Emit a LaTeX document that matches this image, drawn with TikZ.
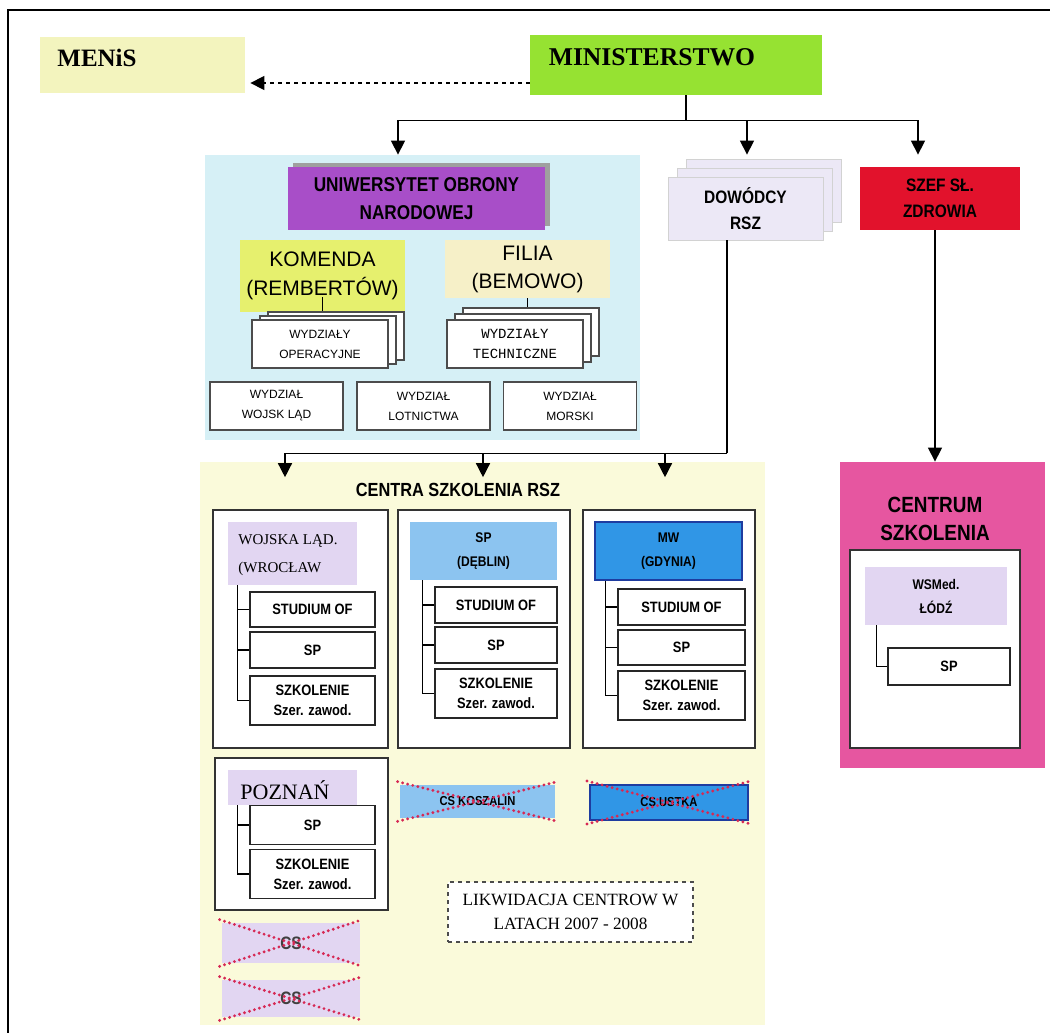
\documentclass[tikz,border=0pt]{standalone}
\usepackage{fontspec}
\setmainfont{Liberation Serif}
\setsansfont{Liberation Sans}
\setmonofont{Liberation Mono}
\newfontfamily\condsf[FakeStretch=0.86]{Liberation Sans}
\usetikzlibrary{arrows.meta,shadows}

\definecolor{uonbg}{RGB}{214,240,246}
\definecolor{centbg}{RGB}{250,250,218}
\definecolor{menisyellow}{RGB}{243,244,190}
\definecolor{mingreen}{RGB}{150,226,50}
\definecolor{uonpurple}{RGB}{168,78,200}
\definecolor{dowlav}{RGB}{236,232,246}
\definecolor{szefred}{RGB}{226,18,44}
\definecolor{komyellow}{RGB}{230,240,110}
\definecolor{filcream}{RGB}{246,240,200}
\definecolor{cspink}{RGB}{230,86,160}
\definecolor{lav}{RGB}{226,214,242}
\definecolor{splight}{RGB}{140,196,240}
\definecolor{mwblue}{RGB}{48,150,230}
\definecolor{mwdark}{RGB}{30,60,160}
\definecolor{crossred}{RGB}{214,40,84}

\begin{document}
\begin{tikzpicture}[x=0.5pt,y=-0.5pt,
  box/.style={rectangle,inner sep=1pt,align=center},
  sub/.style={box,draw=black!85,line width=0.8pt,fill=white,minimum width=62.5pt,
    font=\condsf\bfseries\fontsize{7.5}{10}\selectfont},
  col/.style={box,draw=black!80,line width=0.8pt,fill=white,minimum height=119pt},
  wyd/.style={box,draw=black!70,line width=0.6pt,fill=white,minimum width=66.5pt,minimum height=24pt,
    font=\sffamily\fontsize{6}{10}\selectfont},
  link/.style={line width=0.7pt},
  arr/.style={link,-{Triangle[width=7pt,length=7pt]}},
  cross/.style={crossred,line width=1.6pt,line cap=round,dash pattern=on 0pt off 2.6pt}]
\useasboundingbox (0,0) rectangle (1050,1033);
% frame
\draw[line width=0.8pt] (8,1033) -- (8,10) -- (1050,10);
% backgrounds
\fill[uonbg] (205,155) rectangle (640,440);
\fill[centbg] (200,462) rectangle (765,1025);

% top level
\node[box,fill=menisyellow,minimum width=102.5pt,minimum height=28pt] (menis) at (142.5,65) {};
\node[anchor=west,inner sep=0pt,font=\bfseries\fontsize{12.5}{14}\selectfont] (menistxt) at (57,58) {MENiS};
\node[box,fill=mingreen,minimum width=146pt,minimum height=30pt] (min) at (676,65) {};
\node[inner sep=0pt,font=\bfseries\fontsize{12.8}{15}\selectfont] (mintxt) at (652,57) {MINISTERSTWO};
\draw[arr,dash pattern=on 2pt off 2pt] ([yshift=-9pt]min.west) -- ([yshift=-9pt,xshift=2.5pt]menis.east);

\node[box,fill=uonpurple,minimum width=128.5pt,minimum height=31.5pt,
  general shadow={fill=gray!75,shadow xshift=2.5pt,shadow yshift=2pt},
  font=\condsf\bfseries\fontsize{10}{14}\selectfont] (uon) at (416.5,198.5) {UNIWERSYTET OBRONY\\NARODOWEJ};
\node[box,fill=dowlav,draw=gray!35,minimum width=77.5pt,minimum height=31.5pt,
  double copy shadow={shadow xshift=4.5pt,shadow yshift=4.5pt,fill=dowlav,draw=gray!35},
  font=\condsf\bfseries\fontsize{9}{13}\selectfont] (dow) at (745.5,208.5) {DOWÓDCY\\RSZ};
\node[box,fill=szefred,minimum width=80pt,minimum height=31.5pt,
  font=\condsf\bfseries\fontsize{9}{13}\selectfont] (szef) at (940,198.5) {SZEF SŁ.\\ZDROWIA};

\draw[link] ([xshift=5pt]min.south) -- ++(0,25) coordinate (hub);
\draw[arr] (hub) -| ([xshift=-9.25pt,yshift=6pt]uon.north);
\draw[arr] (hub) -| ([xshift=0.75pt,yshift=11pt]dow.north);
\draw[arr] (hub) -| ([xshift=-11pt,yshift=6pt]szef.north);

% uniwersytet
\node[box,fill=komyellow,minimum width=82.5pt,minimum height=36pt,
  font=\sffamily\fontsize{10.5}{14.5}\selectfont] (kom) at (322.5,276) {KOMENDA\\(REMBERTÓW)};
\node[box,fill=filcream,minimum width=82.5pt,minimum height=29pt,
  font=\sffamily\fontsize{10.5}{14}\selectfont] (fil) at (527.5,269) {FILIA\\(BEMOWO)};
\draw[link,shorten >=4pt] ([yshift=7.5pt]kom.south) -- (kom.south |- 0,320);
\draw[link,shorten >=6pt] (fil.south) -- (fil.south |- 0,320);
\node[wyd,minimum width=68pt,double copy shadow={shadow xshift=4pt,shadow yshift=2pt,fill=white,draw=black!70}]
  (wop) at (320,344) {WYDZIAŁY\\OPERACYJNE};
\node[wyd,minimum width=68pt,double copy shadow={shadow xshift=4pt,shadow yshift=3pt,fill=white,draw=black!70},
  font=\ttfamily\fontsize{7}{10}\selectfont] (wte) at (515,344) {WYDZIAŁY\\TECHNICZNE};
\node[wyd] (wl) at (276.5,406) {WYDZIAŁ\\WOJSK LĄD};
\node[wyd] (wlo) at (423.5,406) {WYDZIAŁ\\LOTNICTWA};
\node[wyd] (wmo) at (570,406) {WYDZIAŁ\\MORSKI};

% centra szkolenia
\node[font=\condsf\bfseries\fontsize{9.5}{12}\selectfont] (csr) at (458,490) {CENTRA SZKOLENIA RSZ};
\node[col,minimum width=87.5pt] (c1) at (300.5,629) {};
\node[col,minimum width=86pt] (c2) at (484,629) {};
\node[col,minimum width=86pt] (c3) at (669,629) {};

\draw[link] ([xshift=-9.25pt]dow.south) -- ++(0,213) coordinate (hub2);
\draw[arr] (hub2) -| ([xshift=-7.75pt,yshift=16pt]c1.north);
\draw[arr] (hub2) -| ([xshift=-0.5pt,yshift=16pt]c2.north);
\draw[arr] (hub2) -| ([xshift=-2pt,yshift=16pt]c3.north);

\node[box,fill=lav,minimum width=64.5pt,minimum height=31.5pt] (h1) at (292.5,553.5) {};
\node[anchor=north west,align=left,inner sep=0pt,font=\fontsize{7.5}{14}\selectfont] (h1txt) at (238,534) {WOJSKA LĄD.\\(WROCŁAW};
\node[box,fill=splight,minimum width=73.5pt,minimum height=29pt,
  font=\condsf\bfseries\fontsize{7}{12}\selectfont] (h2) at (483.5,551) {SP\\(DĘBLIN)};
\node[box,fill=mwblue,draw=mwdark,line width=1pt,minimum width=73.5pt,minimum height=29pt,
  font=\condsf\bfseries\fontsize{7}{12}\selectfont] (h3) at (668.5,551) {MW\\(GDYNIA)};

\node[sub,minimum height=17.5pt] (s1a) at (312.5,609.5) {STUDIUM OF};
\node[sub,minimum height=18pt] (s1b) at (312.5,650) {SP};
\node[sub,minimum height=24.5pt] (s1c) at (312.5,700.5) {SZKOLENIE\\Szer. zawod.};
\node[sub,minimum width=61pt,minimum height=18pt] (s2a) at (496,605) {STUDIUM OF};
\node[sub,minimum width=61pt,minimum height=18pt] (s2b) at (496,645) {SP};
\node[sub,minimum width=61pt,minimum height=24.5pt] (s2c) at (496,693.5) {SZKOLENIE\\Szer. zawod.};
\node[sub,minimum width=63.5pt,minimum height=18pt] (s3a) at (681.5,607) {STUDIUM OF};
\node[sub,minimum width=63.5pt,minimum height=17.5pt] (s3b) at (681.5,647.5) {SP};
\node[sub,minimum width=63.5pt,minimum height=24.5pt] (s3c) at (681.5,695.5) {SZKOLENIE\\Szer. zawod.};

\coordinate (b1) at ([xshift=-6pt]s1a.west);
\draw[link] (b1 |- h1.south) |- (s1c.west);
\draw[link] (s1a.west) -- (b1);
\draw[link] (s1b.west) -- (b1 |- s1b.west);
\coordinate (b2) at ([xshift=-6pt]s2a.west);
\draw[link] (b2 |- h2.south) |- (s2c.west);
\draw[link] (s2a.west) -- (b2);
\draw[link] (s2b.west) -- (b2 |- s2b.west);
\coordinate (b3) at ([xshift=-6pt]s3a.west);
\draw[link] (b3 |- h3.south) |- (s3c.west);
\draw[link] (s3a.west) -- (b3);
\draw[link] (s3b.west) -- (b3 |- s3b.west);

% poznan
\node[col,minimum width=86.5pt,minimum height=76pt] (c4) at (301.5,834) {};
\node[box,fill=lav,minimum width=64.5pt,minimum height=17.5pt] (h4) at (292.5,787.5) {};
\node[anchor=west,inner sep=0pt,font=\fontsize{11}{13}\selectfont] (h4txt) at (240,790) {POZNAŃ};
\node[sub,minimum height=19.5pt] (s4a) at (312.5,825) {SP};
\node[sub,minimum height=24.5pt] (s4b) at (312.5,874) {SZKOLENIE\\Szer. zawod.};
\coordinate (b4) at ([xshift=-6pt]s4a.west);
\draw[link] (b4 |- h4.south) |- (s4b.west);
\draw[link] (s4a.west) -- (b4);

% zlikwidowane
\node[box,fill=splight,minimum width=77.5pt,minimum height=16.5pt,
  font=\condsf\bfseries\fontsize{6.5}{8}\selectfont] (ko) at (477.5,801.5) {CS KOSZALIN};
\node[box,fill=mwblue,draw=mwdark,line width=1pt,minimum width=79pt,minimum height=17.5pt,
  font=\condsf\bfseries\fontsize{6.5}{8}\selectfont] (us) at (669,802.5) {CS USTKA};
\node[box,fill=lav,minimum width=69pt,minimum height=20pt,
  font=\condsf\bfseries\fontsize{9}{10}\selectfont,text=black!75] (cs1) at (291,943) {CS};
\node[box,fill=lav,minimum width=69pt,minimum height=18.5pt,
  font=\condsf\bfseries\fontsize{9}{10}\selectfont,text=black!75] (cs2) at (291,998.5) {CS};
\foreach \n in {ko,us,cs1,cs2}{
  \draw[cross] ([xshift=-1pt,yshift=1.5pt]\n.north west) -- ([xshift=1pt,yshift=-1.5pt]\n.south east);
  \draw[cross] ([xshift=-1pt,yshift=-1.5pt]\n.south west) -- ([xshift=1pt,yshift=1.5pt]\n.north east);
}
\node[box,draw=black!70,dash pattern=on 2pt off 2pt,line width=0.8pt,fill=white,minimum width=122.5pt,minimum height=30pt,
  font=\fontsize{8.6}{12}\selectfont] (lik) at (570.5,912) {LIKWIDACJA CENTROW W\\LATACH 2007 - 2008};

% centrum szkolenia (zdrowie)
\node[box,fill=cspink,minimum width=102.5pt,minimum height=153pt] (cs) at (942.5,615) {};
\draw[arr] ([xshift=-2.5pt]szef.south) -- ([xshift=-3.75pt]cs.north);
\node[inner sep=0pt,align=center,font=\condsf\bfseries\fontsize{11}{14}\selectfont] (cstxt) at (935,519) {CENTRUM\\SZKOLENIA};
\node[box,draw=black!80,fill=white,line width=0.8pt,minimum width=85pt,minimum height=99pt] (csin) at (935,649) {};
\node[box,fill=lav,minimum width=71pt,minimum height=29pt,
  font=\condsf\bfseries\fontsize{7}{12}\selectfont] (wsm) at (936,596) {WSMed.\\ŁÓDŹ};
\node[sub,minimum width=61pt,minimum height=18.5pt] (wsp) at (949,666.5) {SP};
\coordinate (wsb) at ([xshift=6pt]wsm.south west);
\draw[link] (wsb) |- (wsp.west);
\end{tikzpicture}
\end{document}
